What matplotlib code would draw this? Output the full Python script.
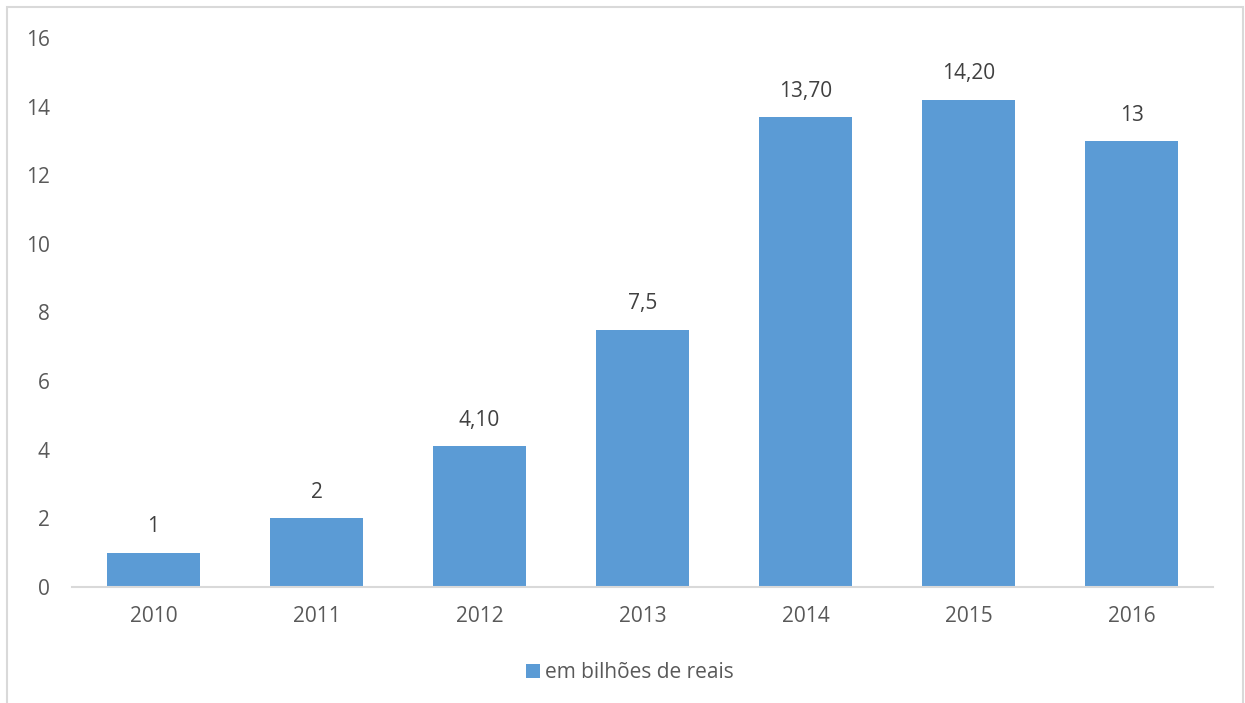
import matplotlib.pyplot as plt
from matplotlib.patches import Rectangle

plt.rcParams['font.family'] = ['Open Sans', 'DejaVu Sans']

anos = ['2010', '2011', '2012', '2013', '2014', '2015', '2016']
valores = [1, 2, 4.1, 7.5, 13.7, 14.2, 13]
rotulos = ['1', '2', '4,10', '7,5', '13,70', '14,20', '13']
serie = 'em bilhões de reais'

azul = '#5B9BD5'
cinza_txt = '#595959'
cinza_linha = '#D9D9D9'

fig = plt.figure(figsize=(12.45, 7.03), dpi=100)
ax = fig.add_axes([0.0578, 0.165, 0.9165, 0.781])

x = range(len(anos))
barras = ax.bar(x, valores, width=0.57, color=azul, label=serie, zorder=2)

for xi, v, r in zip(x, valores, rotulos):
    ax.annotate(r, (xi, v), xytext=(0, 11), textcoords='offset points',
                ha='center', va='bottom', fontsize=15, color='#404040')

ax.set_xlim(-0.5, len(anos) - 0.5)
ax.set_ylim(0, 16)
ax.set_yticks(range(0, 17, 2))
ax.set_xticks(list(x))
ax.set_xticklabels(anos)

for s in ['top', 'right', 'left']:
    ax.spines[s].set_visible(False)
ax.spines['bottom'].set_color(cinza_linha)
ax.spines['bottom'].set_linewidth(1.5)
ax.tick_params(axis='both', length=0, labelsize=15, labelcolor=cinza_txt)
ax.tick_params(axis='y', pad=16)
ax.tick_params(axis='x', pad=14)

leg = fig.legend(handles=[barras], labels=[serie], loc='center',
                 bbox_to_anchor=(0.506, 0.043), frameon=False,
                 fontsize=15, handlelength=0.65, handleheight=0.65,
                 handletextpad=0.25)
for t in leg.get_texts():
    t.set_color(cinza_txt)

# moldura do gráfico
fig.patches.append(Rectangle((7 / 1245, -0.05), 1236 / 1245, 1 - 7 / 703 + 0.05,
                             transform=fig.transFigure, fill=False,
                             edgecolor=cinza_linha, linewidth=1.5))

fig.savefig('out.png', dpi=100)
